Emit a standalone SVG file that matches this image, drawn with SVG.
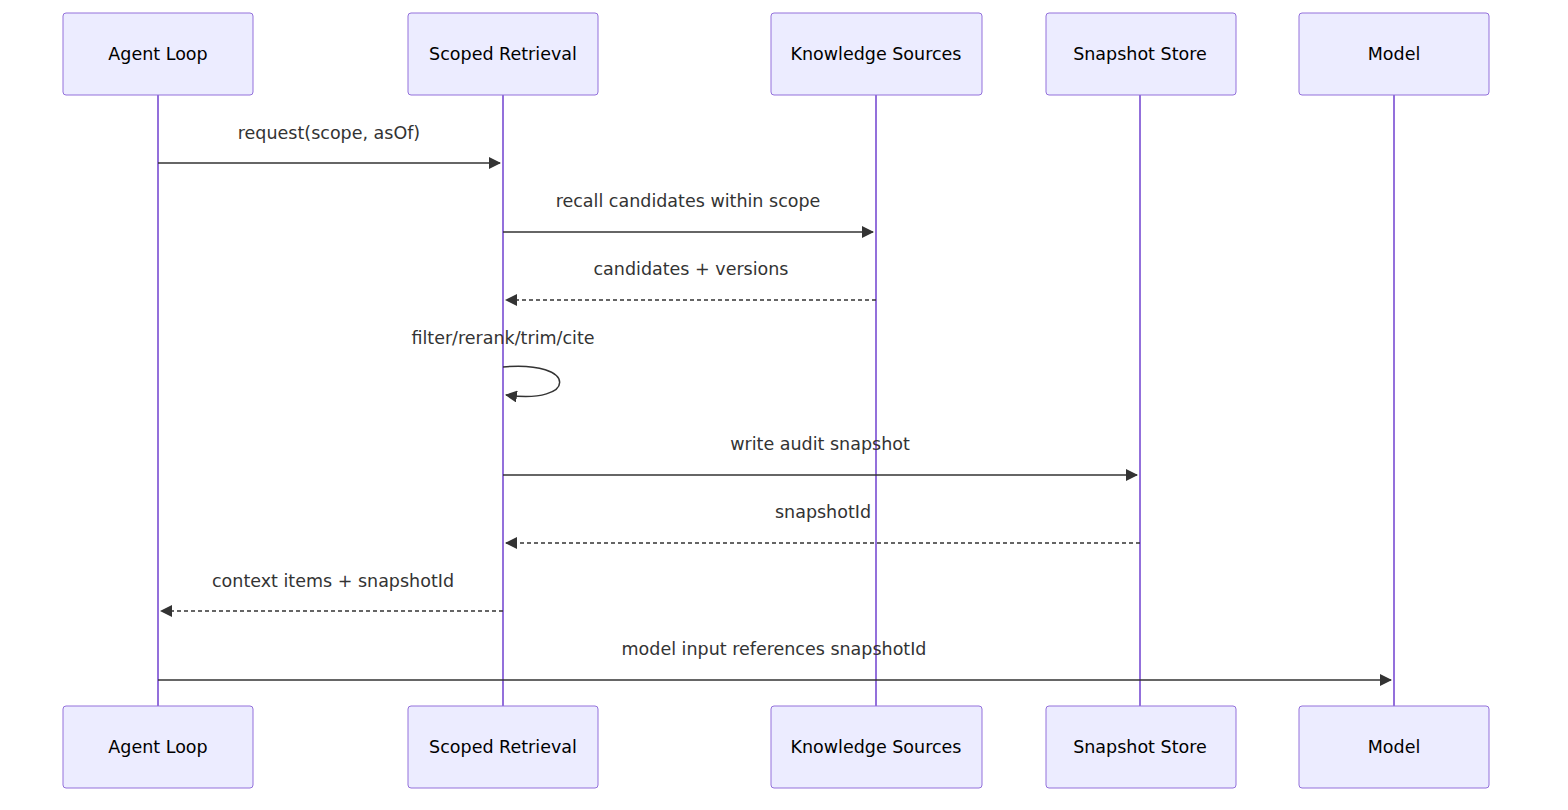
<svg xmlns="http://www.w3.org/2000/svg" width="1568" height="810" viewBox="0 0 1568 810">
<style>
.actor rect{fill:#ECECFF;stroke:#9370DB;stroke-width:1}
.actor text{font-family:"DejaVu Sans","Liberation Sans",sans-serif;font-size:17.5px;fill:#000;text-anchor:middle;dominant-baseline:central}
.life{stroke:#9370DB;stroke-width:2}
.msg{stroke:#333;stroke-width:1.5;fill:none}
.dash{stroke-dasharray:4,3}
.lbl{font-family:"DejaVu Sans","Liberation Sans",sans-serif;font-size:17.5px;fill:#333;text-anchor:middle}
</style>
<defs>
<marker id="arr" viewBox="0 0 12 12" refX="11" refY="6" markerWidth="12" markerHeight="12" markerUnits="userSpaceOnUse" orient="auto"><path d="M0,0 L12,6 L0,12 z" fill="#333"/></marker>
</defs>
<rect width="1568" height="810" fill="#fff"/>
<g id="lifelines">
<line class="life" x1="158" y1="95" x2="158" y2="706"/>
<line class="life" x1="503" y1="95" x2="503" y2="706"/>
<line class="life" x1="876" y1="95" x2="876" y2="706"/>
<line class="life" x1="1140" y1="95" x2="1140" y2="706"/>
<line class="life" x1="1394" y1="95" x2="1394" y2="706"/>
</g>
<g id="agent-loop" class="actor"><rect x="63" y="13" width="190" height="82" rx="3"/><text x="158" y="54">Agent Loop</text><rect x="63" y="706" width="190" height="82" rx="3"/><text x="158" y="747">Agent Loop</text></g>
<g id="scoped-retrieval" class="actor"><rect x="408" y="13" width="190" height="82" rx="3"/><text x="503" y="54">Scoped Retrieval</text><rect x="408" y="706" width="190" height="82" rx="3"/><text x="503" y="747">Scoped Retrieval</text></g>
<g id="knowledge-sources" class="actor"><rect x="771" y="13" width="211" height="82" rx="3"/><text x="876" y="54">Knowledge Sources</text><rect x="771" y="706" width="211" height="82" rx="3"/><text x="876" y="747">Knowledge Sources</text></g>
<g id="snapshot-store" class="actor"><rect x="1046" y="13" width="190" height="82" rx="3"/><text x="1140" y="54">Snapshot Store</text><rect x="1046" y="706" width="190" height="82" rx="3"/><text x="1140" y="747">Snapshot Store</text></g>
<g id="model" class="actor"><rect x="1299" y="13" width="190" height="82" rx="3"/><text x="1394" y="54">Model</text><rect x="1299" y="706" width="190" height="82" rx="3"/><text x="1394" y="747">Model</text></g>
<g id="connectors">
<line class="msg" x1="158" y1="163" x2="500" y2="163" marker-end="url(#arr)"/>
<text class="lbl" x="329" y="139">request(scope, asOf)</text>
<line class="msg" x1="503" y1="232" x2="873" y2="232" marker-end="url(#arr)"/>
<text class="lbl" x="688" y="207">recall candidates within scope</text>
<line class="msg dash" x1="876" y1="300" x2="506" y2="300" marker-end="url(#arr)"/>
<text class="lbl" x="691" y="275">candidates + versions</text>
<path class="msg" d="M503,367 C578,360 578,405 506,395" marker-end="url(#arr)"/>
<text class="lbl" x="503" y="344">filter/rerank/trim/cite</text>
<line class="msg" x1="503" y1="475" x2="1137" y2="475" marker-end="url(#arr)"/>
<text class="lbl" x="820" y="450">write audit snapshot</text>
<line class="msg dash" x1="1140" y1="543" x2="506" y2="543" marker-end="url(#arr)"/>
<text class="lbl" x="823" y="518">snapshotId</text>
<line class="msg dash" x1="503" y1="611" x2="161" y2="611" marker-end="url(#arr)"/>
<text class="lbl" x="333" y="587">context items + snapshotId</text>
<line class="msg" x1="158" y1="680" x2="1391" y2="680" marker-end="url(#arr)"/>
<text class="lbl" x="774" y="655">model input references snapshotId</text>
</g>
</svg>
